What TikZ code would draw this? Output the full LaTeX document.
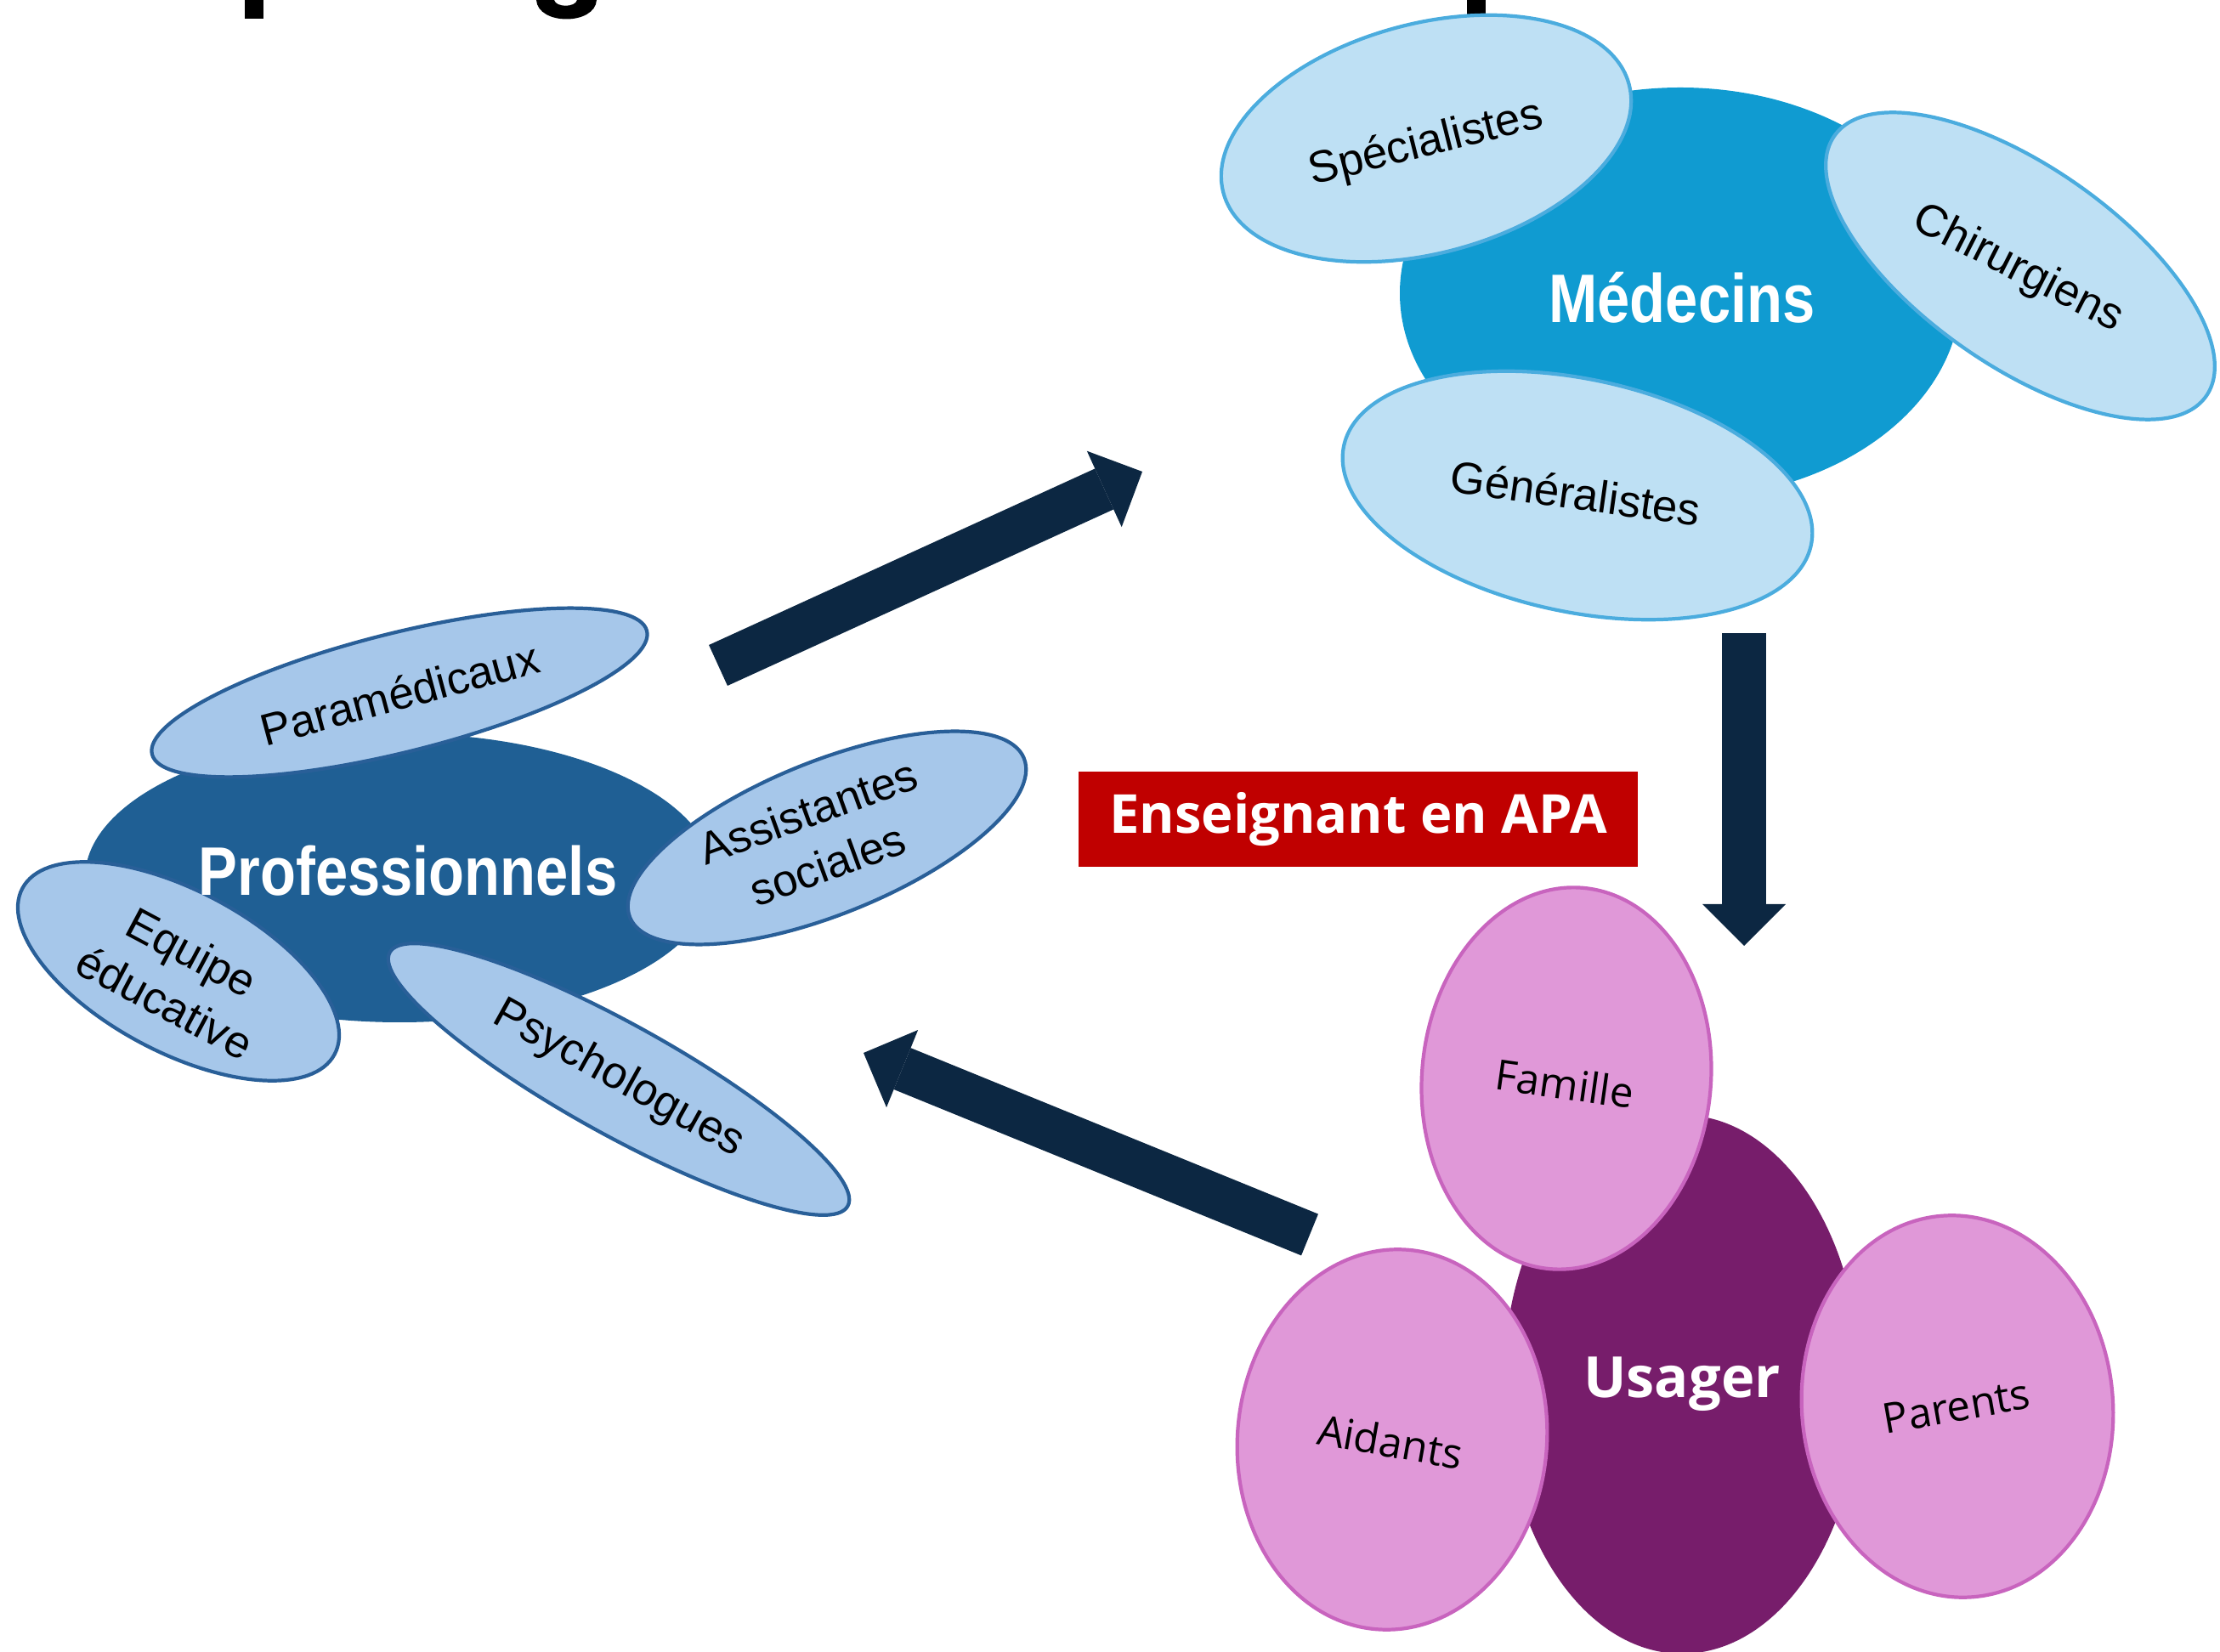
\documentclass[tikz,border=0pt]{standalone}
\usepackage{fontspec}
\setmainfont{Liberation Sans}
\newfontfamily\aptos{Open Sans}
\newfontfamily\narrow[FakeStretch=0.85]{Liberation Sans}
\usepackage{xcolor}
\usetikzlibrary{shapes.geometric}
\usetikzlibrary{arrows.meta}

\definecolor{medcore}{RGB}{16,155,209}
\definecolor{medfill}{RGB}{190,224,244}
\definecolor{medline}{RGB}{75,172,222}
\definecolor{profcore}{RGB}{31,95,148}
\definecolor{proffill}{RGB}{166,199,234}
\definecolor{profline}{RGB}{41,95,152}
\definecolor{usacore}{RGB}{119,29,107}
\definecolor{usafill}{RGB}{224,152,216}
\definecolor{usaline}{RGB}{200,100,190}
\definecolor{arrowblue}{RGB}{12,39,66}
\definecolor{apared}{RGB}{192,0,0}

\begin{document}
\begin{tikzpicture}[
        core/.style={ellipse, inner sep=0pt},
        medsub/.style={ellipse, inner sep=0pt, draw=medline, fill=medfill, line width=1.2pt},
        profsub/.style={ellipse, inner sep=0pt, draw=profline, fill=proffill, line width=1.2pt},
        usasub/.style={ellipse, inner sep=0pt, draw=usaline, fill=usafill, line width=1.2pt},
        corelabel/.style={text=white, font=\narrow\bfseries\fontsize{23}{27}\selectfont},
        usalabel/.style={text=white, font=\aptos\bfseries\fontsize{19}{23}\selectfont},
        sublabel/.style={align=center, font=\fontsize{15}{19}\selectfont},
        usasublabel/.style={font=\aptos\fontsize{14}{16}\selectfont},
        apabox/.style={fill=apared, text=white, minimum width=6.58cm, minimum height=1.12cm,
            font=\aptos\bfseries\fontsize{18}{22}\selectfont},
        bigarrow/.style={line width=15pt, arrowblue, -{Triangle[width=28pt, length=14pt, line width=0pt]}}
    ]
        \useasboundingbox (0, 0) rectangle (26.12, -19.44);

        \fill (2.88, 0) rectangle (3.1, -0.22);
        \fill (6.31, 0) .. controls (6.33, -0.3) and (7, -0.3) .. (7.02, 0)
            -- (6.79, 0) .. controls (6.77, -0.09) and (6.54, -0.09) .. (6.52, 0) -- cycle;
        \fill (17.26, 0) rectangle (17.48, -0.2);

        \node[core, fill=medcore, minimum width=6.6cm, minimum height=4.84cm] (medecins) at (19.77, -3.45) {};
        \node[medsub, minimum width=4.94cm, minimum height=2.7cm, rotate=15] (specialistes) at (16.78, -1.63) {};
        \node[medsub, minimum width=5.34cm, minimum height=2.34cm, rotate=-35] (chirurgiens) at (23.77, -3.13) {};
        \node[medsub, minimum width=5.62cm, minimum height=2.74cm, rotate=-12] (generalistes) at (18.56, -5.83) {};
        \node[corelabel] (medecins-t) at (19.79, -3.5) {Médecins};
        \node[sublabel, rotate=14] (specialistes-t) at (16.78, -1.7) {Spécialistes};
        \node[sublabel, rotate=-27] (chirurgiens-t) at (23.74, -3.17) {Chirurgiens};
        \node[sublabel, rotate=-8] (generalistes-t) at (18.54, -5.8) {Généralistes};

        \node[core, fill=profcore, minimum width=7.4cm, minimum height=3.4cm] (prof) at (4.7, -10.33) {};
        \node[profsub, minimum width=6cm, minimum height=1.4cm, rotate=14] (paramedicaux) at (4.7, -8.15) {};
        \node[profsub, minimum width=5cm, minimum height=1.8cm, rotate=22] (assistantes) at (9.73, -9.86) {};
        \node[profsub, minimum width=4.16cm, minimum height=1.9cm, rotate=-28] (equipe) at (2.1, -11.43) {};
        \node[profsub, minimum width=6.16cm, minimum height=1.3cm, rotate=-29] (psychologues) at (7.28, -12.7) {};
        \node[corelabel] (prof-t) at (4.8, -10.25) {Professionnels};
        \node[sublabel, rotate=15] (paramedicaux-t) at (4.7, -8.16) {Paramédicaux};
        \node[sublabel, rotate=20] (assistantes-t) at (9.62, -9.86) {Assistantes\\sociales};
        \node[sublabel, rotate=-28] (equipe-t) at (2.1, -11.5) {Equipe\\éducative};
        \node[sublabel, rotate=-29] (psychologues-t) at (7.28, -12.7) {Psychologues};

        \node[core, fill=usacore, minimum width=4.2cm, minimum height=6.34cm] (usager) at (19.79, -16.29) {};
        \node[usasub, minimum width=3.4cm, minimum height=4.5cm, rotate=-5] (famille) at (18.43, -12.69) {};
        \node[usasub, minimum width=3.64cm, minimum height=4.48cm, rotate=-5] (aidants) at (16.38, -16.94) {};
        \node[usasub, minimum width=3.66cm, minimum height=4.5cm, rotate=5] (parents) at (23.03, -16.55) {};
        \node[usalabel] (usager-t) at (19.79, -16.29) {Usager};
        \node[usasublabel, rotate=-8] (famille-t) at (18.41, -12.75) {Famille};
        \node[usasublabel, rotate=-10] (aidants-t) at (16.36, -16.96) {Aidants};
        \node[usasublabel, rotate=10] (parents-t) at (23.02, -16.55) {Parents};

        \node[apabox] (apa) at (15.98, -9.64) {Enseignant en APA};

        \coordinate (prof-out) at (8.45, -7.83);
        \coordinate (med-in) at (13.44, -5.55);
        \coordinate (med-out) at (20.52, -7.45);
        \coordinate (usa-in) at (20.52, -11.13);
        \coordinate (usa-out) at (15.41, -14.53);
        \coordinate (prof-in) at (10.16, -12.39);

        \draw[bigarrow] (prof-out) -- (med-in);
        \draw[bigarrow] (med-out) -- (usa-in);
        \draw[bigarrow] (usa-out) -- (prof-in);
    \end{tikzpicture}
\end{document}
